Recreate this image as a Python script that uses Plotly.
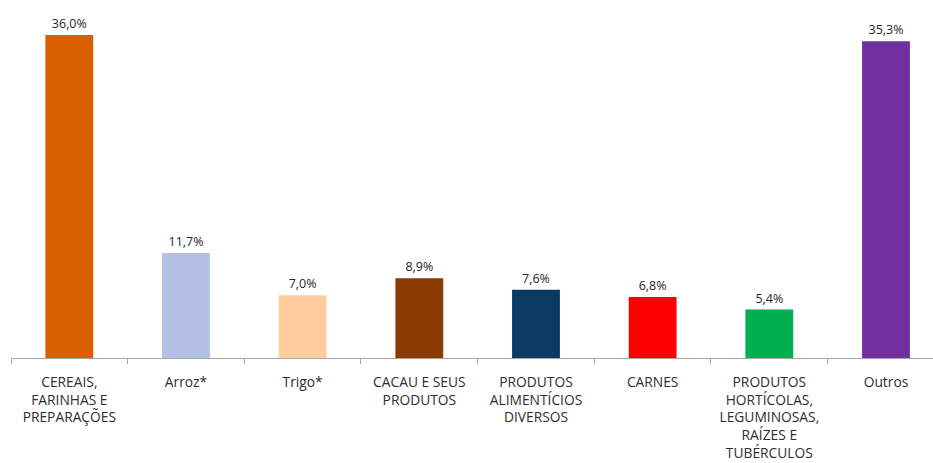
import plotly.graph_objects as go

categories = [
    "CEREAIS,<br>FARINHAS E<br>PREPARAÇÕES",
    "Arroz*",
    "Trigo*",
    "CACAU E SEUS<br>PRODUTOS",
    "PRODUTOS<br>ALIMENTÍCIOS<br>DIVERSOS",
    "CARNES",
    "PRODUTOS<br>HORTÍCOLAS,<br>LEGUMINOSAS,<br>RAÍZES E<br>TUBÉRCULOS",
    "Outros",
]
values = [36.0, 11.7, 7.0, 8.9, 7.6, 6.8, 5.4, 35.3]
value_labels = ["36,0%", "11,7%", "7,0%", "8,9%", "7,6%", "6,8%", "5,4%", "35,3%"]
colors = ["#D95F02", "#B4C0E6", "#FFCC9E", "#8B3A00", "#0B3A62", "#FF0000", "#00B050", "#7030A0"]

fig = go.Figure(
    go.Bar(
        x=list(range(len(categories))),
        y=values,
        text=value_labels,
        textposition="outside",
        textfont=dict(size=12.5, color="#262626", family="Open Sans"),
        marker=dict(color=colors, line=dict(width=0)),
        width=0.41,
        cliponaxis=False,
    )
)

fig.update_layout(
    width=933,
    height=463,
    margin=dict(l=11, r=0, t=0, b=105, autoexpand=False),
    plot_bgcolor="white",
    paper_bgcolor="white",
    showlegend=False,
    xaxis=dict(
        range=[-0.5, 7.403],
        tickmode="array",
        tickvals=list(range(len(categories))),
        ticktext=categories,
        showline=True,
        linecolor="#A6A6A6",
        linewidth=1,
        ticks="outside",
        ticklen=11,
        tickcolor="rgba(0,0,0,0)",
        showgrid=False,
        automargin=False,
        tickfont=dict(size=13.8, color="#2E2E2E", family="Open Sans"),
        tickangle=0,
    ),
    yaxis=dict(
        range=[0, 39.9],
        visible=False,
        showgrid=False,
        zeroline=False,
        automargin=False,
    ),
    xaxis2=dict(
        overlaying="x",
        range=[-0.5, 7.403],
        tickmode="array",
        tickvals=[i - 0.5 for i in range(len(categories) + 1)],
        ticktext=[""] * (len(categories) + 1),
        ticks="outside",
        ticklen=5,
        tickcolor="#A6A6A6",
        showline=False,
        showgrid=False,
        automargin=False,
        anchor="y",
        side="bottom",
    ),
)
fig.add_trace(go.Scatter(x=[0], y=[0], xaxis="x2", mode="markers",
                         marker=dict(opacity=0), hoverinfo="skip"))

fig.write_html(
    "out.html",
    config={"displayModeBar": False},
    post_script="document.body.style.margin='0';document.body.style.overflow='hidden';",
)
